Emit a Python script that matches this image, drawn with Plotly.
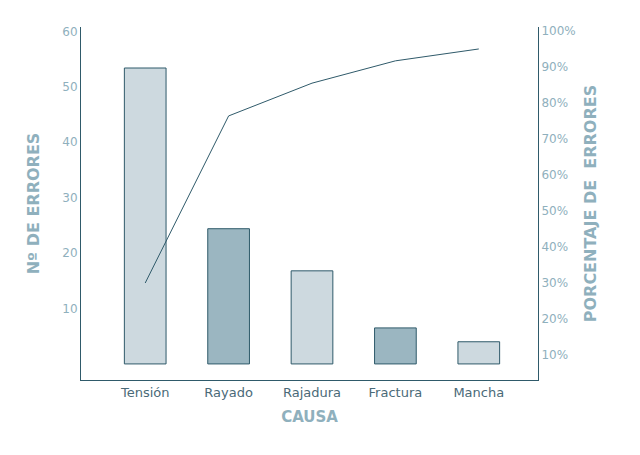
import plotly.graph_objects as go

categories = ["Tensión", "Rayado", "Rajadura", "Fractura", "Mancha"]
errors = [53.4, 24.4, 16.8, 6.5, 4.0]
cum_pct = [30, 76.4, 85.5, 91.7, 95]
bar_colors = ["#cdd9df", "#9bb6c1", "#cdd9df", "#9bb6c1", "#cdd9df"]
left_ticks = [10, 20, 30, 40, 50, 60]
right_ticks = [10, 20, 30, 40, 50, 60, 70, 80, 90, 100]

lab = "#8fb0bd"
fig = go.Figure()
fig.add_trace(go.Bar(x=categories, y=errors, width=0.5,
                     marker=dict(color=bar_colors, line=dict(color="#2f5a6a", width=1))))
fig.add_trace(go.Scatter(x=categories, y=cum_pct, yaxis="y2", mode="lines",
                         line=dict(color="#2f5a6a", width=1)))
fig.update_layout(
    width=640, height=455, showlegend=False, plot_bgcolor="white", paper_bgcolor="white",
    margin=dict(l=73, r=110, t=19, b=83),
    font=dict(family="DejaVu Sans", color=lab, size=12),
    xaxis=dict(range=[-0.77, 4.71], showline=True, linecolor="#2f5a6a", ticks="",
               tickfont=dict(color="#4a6a78", size=13),
               title=dict(text="<b>CAUSA</b>", font=dict(size=15, color=lab), standoff=12)),
    yaxis=dict(range=[-2.9, 60.8], tickvals=left_ticks, showgrid=False, zeroline=False,
               showline=True, linecolor="#2f5a6a", ticks="", tickfont=dict(color=lab),
               title=dict(text="<b>Nº DE ERRORES</b>", font=dict(size=16, color=lab), standoff=18)),
    yaxis2=dict(range=[3.06, 101.1], overlaying="y", side="right", tickvals=right_ticks,
                ticktext=[f"{v}%" for v in right_ticks], showgrid=False, zeroline=False, showline=True,
                linecolor="#2f5a6a", ticks="", tickfont=dict(color=lab),
                title=dict(text="<b>PORCENTAJE DE  ERRORES</b>", font=dict(size=16, color=lab), standoff=10)),
)
fig.write_html("out.html")
